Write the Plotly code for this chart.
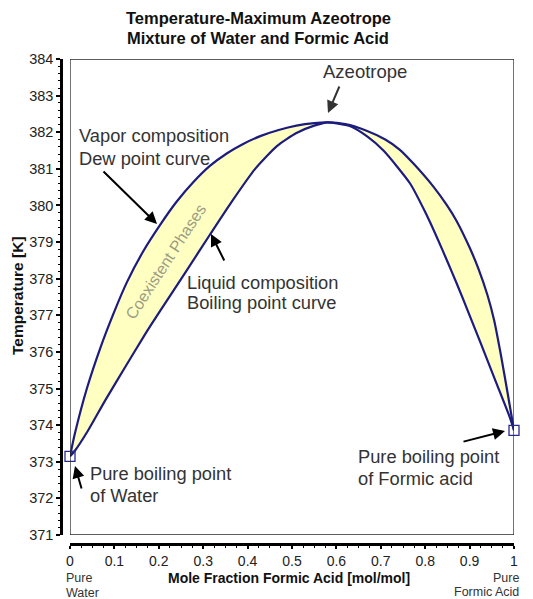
import plotly.graph_objects as go

# ---- data ----
dew_x = [0, 0.011, 0.038, 0.068, 0.097, 0.128, 0.165, 0.203, 0.24, 0.278, 0.315, 0.353,
         0.39, 0.43, 0.47, 0.51, 0.55, 0.58, 0.62, 0.668, 0.71, 0.743, 0.773, 0.818,
         0.848, 0.871, 0.9, 0.92, 0.94, 0.955, 0.97, 0.985, 1.0]
dew_T = [373.15, 373.77, 375.0, 376.1, 377.02, 377.9, 378.75, 379.47, 380.1, 380.64,
         381.08, 381.42, 381.68, 381.9, 382.06, 382.18, 382.25, 382.27, 382.22, 382.04,
         381.8, 381.52, 381.15, 380.52, 380.02, 379.57, 378.85, 378.27, 377.56, 376.88,
         375.95, 374.92, 373.86]

bub_x = [0, 0.011, 0.04, 0.079, 0.124, 0.169, 0.203, 0.26, 0.315, 0.364, 0.417, 0.466,
         0.51, 0.55, 0.58, 0.63, 0.67, 0.706, 0.766, 0.8, 0.826, 0.85, 0.871, 0.9, 0.923,
         0.961, 0.991, 1.0]
bub_T = [373.15, 373.3, 373.84, 374.67, 375.58, 376.48, 377.12, 378.17, 379.2, 380.1,
         381.0, 381.62, 381.98, 382.18, 382.27, 382.17, 381.88, 381.5, 380.6, 379.82,
         379.14, 378.47, 377.87, 377.0, 376.3, 375.13, 374.2, 373.86]

pure_x = [0, 1]
pure_T = [373.15, 373.86]

x_ticks = [0, 0.1, 0.2, 0.3, 0.4, 0.5, 0.6, 0.7, 0.8, 0.9, 1]
x_ticklabels = ["0", "0.1", "0.2", "0.3", "0.4", "0.5", "0.6", "0.7", "0.8", "0.9", "1"]
y_ticks = list(range(371, 385))

# ---- layout geometry (pixels in a 533x599 page) ----
W, H = 533, 599
X0, X1 = 70, 514      # plot box left/right
Y0, Y1 = 535, 59      # plot box bottom/top
YAX_PX = 61           # detached y-axis line
XAX_PX = 544          # detached x-axis line

def px(xp):
    return xp / W

def py(yp):
    return 1 - yp / H

NAVY = "#1c1c7e"
FONT = "Liberation Sans, Arial, sans-serif"
TXT = "#333333"
LBL = 18.3

fig = go.Figure()

# coexistence region fill
fig.add_trace(go.Scatter(
    x=dew_x + bub_x[::-1], y=dew_T + bub_T[::-1],
    fill="toself", fillcolor="#FFFFC2", mode="none", hoverinfo="skip",
    showlegend=False))

fig.add_trace(go.Scatter(x=dew_x, y=dew_T, mode="lines",
                         line=dict(color=NAVY, width=2.2, shape="spline", smoothing=0.6),
                         showlegend=False))
fig.add_trace(go.Scatter(x=bub_x, y=bub_T, mode="lines",
                         line=dict(color=NAVY, width=2.2, shape="spline", smoothing=0.6),
                         showlegend=False))
fig.add_trace(go.Scatter(x=pure_x, y=pure_T, mode="markers", cliponaxis=False,
                         marker=dict(symbol="square-open", size=10, color="#2b2b8f",
                                     line=dict(width=1.3, color="#2b2b8f")),
                         showlegend=False))

fig.add_shape(type="rect", xref="x", yref="y", x0=0, x1=1, y0=371, y1=384,
              line=dict(color="#2a2a2a", width=1.3), layer="above")

fig.update_layout(
    width=W, height=H,
    margin=dict(l=0, r=0, t=0, b=0),
    paper_bgcolor="white", plot_bgcolor="white",
    font=dict(family=FONT, color="#222222"),
    xaxis=dict(domain=[px(X0), px(X1)], range=[0, 1], anchor="free", position=py(XAX_PX),
               showline=True, linecolor="black", linewidth=2.5,
               ticks="outside", ticklen=3, tickwidth=1.5, tickcolor="black",
               tickvals=x_ticks, ticktext=x_ticklabels,
               tickfont=dict(size=14, color="#222222", family=FONT),
               minor=dict(ticks="outside", dtick=0.025, ticklen=2, tickcolor="black", tickwidth=1),
               showgrid=False, zeroline=False, automargin=False),
    yaxis=dict(domain=[py(Y0), py(Y1)], range=[371, 384], anchor="free", position=px(YAX_PX),
               showline=True, linecolor="black", linewidth=2.5,
               ticks="outside", ticklen=4, tickwidth=1.5, tickcolor="black",
               tickvals=y_ticks,
               tickfont=dict(size=14.5, color="#222222", family=FONT),
               minor=dict(ticks="outside", dtick=0.2, ticklen=2, tickcolor="black", tickwidth=1),
               showgrid=False, zeroline=False, automargin=False),
)

def d2x(xp):
    return (xp - X0) / (X1 - X0)

def d2y(yp):
    return 371 + (Y0 - yp) / (Y0 - Y1) * 13

def text(xp, yp, s, size=LBL, xanchor="left", align="left", color=TXT, bold=False, angle=0):
    fig.add_annotation(x=px(xp), y=py(yp), xref="paper", yref="paper", text=s,
                       showarrow=False, xanchor=xanchor, yanchor="middle", align=align,
                       textangle=angle,
                       font=dict(size=size, color=color, family=FONT,
                                 weight="bold" if bold else "normal"))

def arrow(tail, head, color="black", width=2):
    fig.add_annotation(x=d2x(head[0]), y=d2y(head[1]), xref="x", yref="y", text="",
                       showarrow=True, ax=tail[0] - head[0], ay=tail[1] - head[1],
                       axref="pixel", ayref="pixel",
                       arrowhead=2, arrowsize=1.2, arrowwidth=width, arrowcolor=color)

# title
text(258, 18, "Temperature-Maximum Azeotrope", size=16.5, xanchor="center", align="center",
     color="#111111", bold=True)
text(258, 38, "Mixture of Water and Formic Acid", size=16.5, xanchor="center", align="center",
     color="#111111", bold=True)

# axis titles
text(17, 296, "Temperature [K]", size=15.5, xanchor="center", align="center",
     color="#111111", bold=True, angle=-90)
text(289, 578, "Mole Fraction Formic Acid [mol/mol]", size=14, xanchor="center",
     align="center", color="#111111", bold=True)
text(64, 577.5, "Pure", size=12.5)
text(64, 593, "Water", size=12.5)
text(521, 577.5, "Pure", size=12.5, xanchor="right", align="right")
text(521, 592, "Formic Acid", size=12.5, xanchor="right", align="right")

# labels in plot
text(321, 72, "Azeotrope", size=18.5)
text(77, 135, "Vapor composition")
text(77, 158, "Dew point curve")
text(185, 282, "Liquid composition")
text(185, 302, "Boiling point curve")
text(88, 474, "Pure boiling point")
text(88, 495, "of Water")
text(356, 456, "Pure boiling point")
text(356, 478, "of Formic acid")
text(165, 262, "Coexistent Phases", size=16, xanchor="center", align="center",
     color="#9c9c84", angle=-57)

# arrows
arrow((340, 85), (328, 113), color="#333333")
arrow((102, 170), (157, 224))
arrow((225, 262), (211, 234))
arrow((82, 490), (75, 466))
arrow((462, 442), (505, 431))

fig.write_html("out.html")
